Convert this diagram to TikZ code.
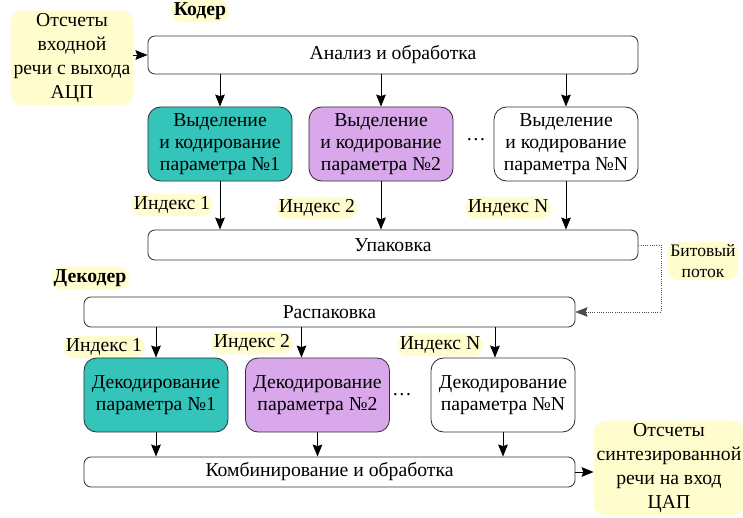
\documentclass[tikz,border=0pt]{standalone}
\usepackage{fontspec}
\setmainfont{Liberation Serif}
\newfontfamily\timesru{Liberation Serif}
\usetikzlibrary{positioning,arrows.meta,calc}
\definecolor{paramteal}{RGB}{52,196,186}
\definecolor{paramlilac}{RGB}{216,168,234}
\definecolor{hlyellow}{RGB}{255,253,205}
\tikzset{
  every node/.style={font=\timesru\fontsize{14}{15.8}\selectfont},
  wide/.style={rectangle,rounded corners=5pt,draw=black!80,line width=0.6pt,fill=white,minimum width=12.25cm,minimum height=0.75cm},
  param/.style={rectangle,rounded corners=9pt,draw=black!80,line width=0.6pt,align=center,minimum width=3.6cm,minimum height=1.85cm,inner sep=1pt},
  hl/.style={fill=hlyellow,rounded corners=8pt,align=center,inner sep=2pt},
  edge/.style={-{Stealth[length=3mm,width=2.4mm,inset=0.4mm]},line width=0.6pt},
  bitedge/.style={-{Stealth[length=3mm,width=2.4mm,inset=0.4mm]},densely dotted,line width=0.6pt,black!70}
}
\begin{document}
\begin{tikzpicture}[x=0.025cm,y=-0.025cm]
  \useasboundingbox (0,0) rectangle (743,518);
  % coder
  \node[hl,font=\timesru\fontsize{14}{15.8}\selectfont\bfseries] (coder) at (200,11) {Кодер};
  \node[hl,font=\timesru\fontsize{14}{17}\selectfont] (input) at (72,58) {Отсчеты\\входной\\речи с выхода\\АЦП};
  \node[wide,minimum height=0.95cm] (ana) at (393,55) {Анализ и обработка};
  \node[param,fill=paramteal] (enc1) at (220,144) {Выделение\\и кодирование\\параметра №1};
  \node[param,fill=paramlilac] (enc2) at (381,144) {Выделение\\и кодирование\\параметра №2};
  \node (encdots) at (476,140) {\dots};
  \node[param,fill=white] (encN) at (566,144) {Выделение\\и кодирование\\параметра №N};
  \node[hl] (eidx1) at (172,205) {Индекс 1};
  \node[hl] (eidx2) at (317,208) {Индекс 2};
  \node[hl] (eidxN) at (508,208) {Индекс N};
  \node[wide] (pack) at (393,245) {Упаковка};
  \node[hl,font=\timesru\fontsize{12.5}{14.5}\selectfont] (bits) at (703,261) {Битовый\\поток};
  \coordinate (bitturn) at (661,280);
  % decoder
  \node[hl,font=\timesru\fontsize{14}{15.8}\selectfont\bfseries] (decoder) at (90,278) {Декодер};
  \node[wide,minimum width=12.275cm] (unpack) at (329.5,312) {Распаковка};
  \node[hl] (didx1) at (104,347) {Индекс 1};
  \node[hl] (didx2) at (252,343) {Индекс 2};
  \node[hl] (didxN) at (440,345) {Индекс N};
  \node[param,fill=paramteal] (dec1) at (156,395) {Декодирование\\параметра №1};
  \node[param,fill=paramlilac] (dec2) at (317.5,395) {Декодирование\\параметра №2};
  \node (decdots) at (402,395) {\dots};
  \node[param,fill=white] (decN) at (503,395) {Декодирование\\параметра №N};
  \node[wide,minimum width=12.275cm] (comb) at (329.5,472) {Комбинирование и обработка};
  \node[hl,font=\timesru\fontsize{14}{17}\selectfont] (output) at (669,468) {Отсчеты\\синтезированной\\речи на вход\\ЦАП};
  % connectors
  \draw[edge] (input.east |- ana.west) -- (ana.west);
  \foreach \p in {enc1,enc2,encN} {
    \draw[edge] (\p.north |- ana.south) -- (\p.north);
    \draw[edge] (\p.south) -- (\p.south |- pack.north);
  }
  \draw[bitedge] (pack.east) -| (bitturn) |- (unpack.east);
  \draw[edge] (dec1.north |- unpack.south) -- (dec1.north);
  \draw[edge] ([xshift=-0.4cm]dec2.north |- unpack.south) -- ([xshift=-0.4cm]dec2.north);
  \draw[edge] ([xshift=-0.2cm]decN.north |- unpack.south) -- ([xshift=-0.2cm]decN.north);
  \foreach \p in {dec1,dec2,decN}
    \draw[edge] (\p.south) -- (\p.south |- comb.north);
  \draw[edge] (comb.east) -- (comb.east -| output.west);
\end{tikzpicture}
\end{document}
